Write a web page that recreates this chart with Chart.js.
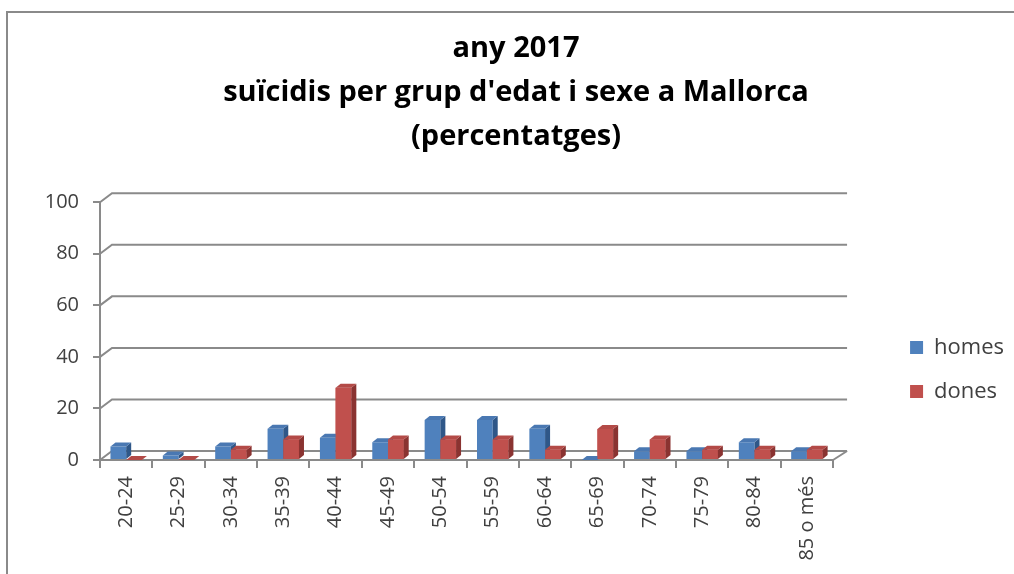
<!DOCTYPE html>
<html>
<head>
<meta charset="utf-8">
<script src="https://cdn.jsdelivr.net/npm/chart.js@4/dist/chart.umd.min.js"></script>
<style>
    body { margin: 0; background: #fff; }
    #wrap { position: relative; width: 1014px; height: 574px; overflow: hidden; }
    #frame { position: absolute; left: 6px; top: 11px; width: 1030px; height: 600px; border-left: 2px solid #8a8a8a; border-top: 2px solid #8a8a8a; }
    #chart { position: absolute; left: 0; top: 0; }
</style>
</head>
<body>
<div id="wrap">
    <div id="frame"></div>
    <canvas id="chart" width="1014" height="574"></canvas>
</div>
<script>
// dades: suïcidis per grup d'edat i sexe, Mallorca 2017 (%)
var grups = ['20-24', '25-29', '30-34', '35-39', '40-44', '45-49', '50-54', '55-59',
    '60-64', '65-69', '70-74', '75-79', '80-84', '85 o més'];
var homes = [5.2, 1.7, 5.2, 12.1, 8.6, 6.9, 15.5, 15.5, 12.1, 0, 3.4, 3.4, 6.9, 3.4];
var dones = [0, 0, 4, 8, 28, 8, 8, 8, 4, 12, 8, 4, 4, 4];
var titol = ['any 2017', "suïcidis per grup d'edat i sexe a Mallorca", '(percentatges)'];

var gris = '#8a8a8a';
var fondo = { dx: 12, dy: 9 };   // desplaçament de la paret del fons
var barra = { dx: 5, dy: 4 };    // profunditat de les barres
var cares = [
    { top: '#4a78b2', side: '#2f5788' },
    { top: '#b34a47', side: '#8a3331' }
];

// paret del fons i terra en pseudo 3D
var fons3d = {
    id: 'fons3d',
    beforeDatasetsDraw: function (chart) {
        var ctx = chart.ctx;
        var a = chart.chartArea;
        var y = chart.scales.y;
        ctx.save();
        ctx.strokeStyle = gris;
        ctx.lineWidth = 2;
        y.ticks.forEach(function (t) {
            var py = y.getPixelForValue(t.value);
            ctx.beginPath();
            ctx.moveTo(a.left, py);
            ctx.lineTo(a.left + fondo.dx, py - fondo.dy);
            ctx.lineTo(a.right + fondo.dx + 2, py - fondo.dy);
            ctx.stroke();
        });
        var p0 = y.getPixelForValue(0);
        ctx.beginPath();
        ctx.moveTo(a.right, p0);
        ctx.lineTo(a.right + fondo.dx + 2, p0 - fondo.dy);
        ctx.stroke();
        ctx.restore();
    },
    afterDatasetsDraw: function (chart) {
        var ctx = chart.ctx;
        ctx.save();
        [0, 1].forEach(function (d) {
            var meta = chart.getDatasetMeta(d);
            meta.data.forEach(function (bar) {
                var l = bar.x - bar.width / 2;
                var r = bar.x + bar.width / 2;
                if (d === 1) {
                    // tornar a pintar la cara frontal perquè tapi el lateral dels homes
                    ctx.fillStyle = bar.options.backgroundColor;
                    ctx.fillRect(l, bar.y, bar.width, bar.base - bar.y);
                }
                ctx.fillStyle = cares[d].side;
                ctx.beginPath();
                ctx.moveTo(r, bar.y);
                ctx.lineTo(r + barra.dx, bar.y - barra.dy);
                ctx.lineTo(r + barra.dx, bar.base - barra.dy);
                ctx.lineTo(r, bar.base);
                ctx.closePath();
                ctx.fill();
                ctx.fillStyle = cares[d].top;
                ctx.beginPath();
                ctx.moveTo(l, bar.y);
                ctx.lineTo(l + barra.dx, bar.y - barra.dy);
                ctx.lineTo(r + barra.dx, bar.y - barra.dy);
                ctx.lineTo(r, bar.y);
                ctx.closePath();
                ctx.fill();
            });
        });
        ctx.restore();
    }
};

var ctx = document.getElementById('chart').getContext('2d');

new Chart(ctx, {
    type: 'bar',
    data: {
        labels: grups,
        datasets: [{
            label: 'homes',
            data: homes,
            backgroundColor: '#4f81bd'
        }, {
            label: 'dones',
            data: dones,
            backgroundColor: '#c0504d'
        }]
    },
    options: {
        responsive: false,
        animation: false,
        events: [],
        categoryPercentage: 0.6,
        barPercentage: 1.0,
        layout: {
            padding: { left: 18, right: 0, top: 0, bottom: 0 }
        },
        plugins: {
            title: {
                display: true,
                text: titol,
                color: '#000',
                font: { family: 'Open Sans', size: 29, weight: 'bold', lineHeight: 1.52 },
                padding: { top: 27, bottom: 43 }
            },
            legend: {
                position: 'right',
                align: 'center',
                title: {
                    display: true,
                    text: ' ',
                    font: { size: 10 },
                    padding: { top: 153, bottom: 0 }
                },
                labels: {
                    color: '#404040',
                    font: { family: 'Open Sans', size: 22 },
                    boxWidth: 13,
                    boxHeight: 13,
                    padding: 22
                }
            },
            tooltip: { enabled: false }
        },
        scales: {
            x: {
                grid: {
                    offset: true,
                    drawOnChartArea: false,
                    tickLength: 8,
                    color: gris,
                    lineWidth: 2
                },
                border: { color: gris, width: 2 },
                ticks: {
                    minRotation: 90,
                    maxRotation: 90,
                    autoSkip: false,
                    padding: 8,
                    color: '#404040',
                    font: { family: 'Open Sans', size: 20 }
                },
                afterFit: function (s) { s.height = 114; }
            },
            y: {
                min: 0,
                max: 100,
                ticks: {
                    stepSize: 20,
                    padding: 14,
                    color: '#404040',
                    font: { family: 'Open Sans', size: 20 }
                },
                grid: {
                    drawOnChartArea: false,
                    tickLength: 7,
                    color: gris,
                    lineWidth: 2
                },
                border: { color: gris, width: 2 },
                afterFit: function (s) { s.width = 82; }
            },
            // espai buit entre el gràfic i la llegenda
            buit: {
                type: 'linear',
                position: 'right',
                display: true,
                grid: { display: false },
                border: { display: false },
                ticks: { display: false },
                afterFit: function (s) { s.width = 55; }
            }
        }
    },
    plugins: [fons3d]
});
</script>
</body>
</html>
